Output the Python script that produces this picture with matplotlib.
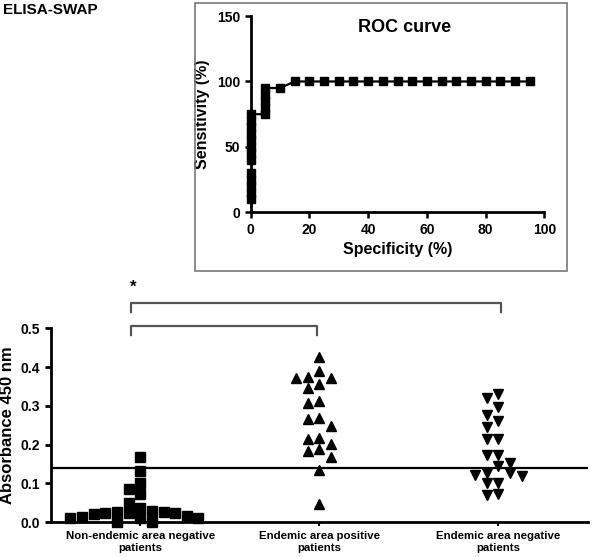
import numpy as np
import matplotlib.pyplot as plt

plt.rcParams['font.family'] = ['Liberation Sans', 'DejaVu Sans']
plt.rcParams['font.weight'] = 'bold'

# scatter data (absorbance at 450 nm)
groups = ['Non-endemic area negative\npatients',
          'Endemic area positive\npatients',
          'Endemic area negative\npatients']
non_endemic_neg = [0.169, 0.133, 0.100, 0.085, 0.072, 0.049, 0.036, 0.030, 0.027,
                   0.027, 0.023, 0.023, 0.023, 0.021, 0.015, 0.014, 0.012, 0.010,
                   0.010, 0.002, 0.001]
endemic_pos = [0.425, 0.390, 0.375, 0.373, 0.373, 0.356, 0.347, 0.313, 0.308, 0.270,
               0.267, 0.247, 0.217, 0.215, 0.203, 0.190, 0.183, 0.168, 0.136, 0.048]
endemic_neg = [0.331, 0.320, 0.297, 0.277, 0.262, 0.245, 0.215, 0.215, 0.174, 0.173,
               0.153, 0.144, 0.127, 0.127, 0.123, 0.120, 0.102, 0.100, 0.074, 0.070]
cutoff = 0.14

# ROC curve (nan = break in the line)
roc_spec = [0, 0, 0, 0, 0, np.nan, 0, 0, 0, 0, 0, 0, 0, 0,
            5, 5, 5, 5, 5, 10,
            15, 20, 25, 30, 35, 40, 45, 50, 55, 60, 65, 70, 75, 80, 85, 90, 95]
roc_sens = [10, 15, 20, 25, 30, np.nan, 40, 45, 50, 55, 60, 65, 70, 75,
            75, 80, 85, 90, 95, 95,
            100, 100, 100, 100, 100, 100, 100, 100, 100, 100, 100, 100, 100, 100, 100, 100, 100]


def swarm(values, h=0.024, step=0.065):
    # beeswarm: candidate offsets in half steps, boxes must not overlap
    placed = []
    xs = np.zeros(len(values))
    cands = [0.0]
    for j in range(1, 14):
        cands += [-0.5 * j, 0.5 * j]
    for i in np.argsort(values)[::-1]:
        v = values[i]
        for k in cands:
            if all(not (abs(pk - k) < 1 and abs(pv - v) < h) for pk, pv in placed):
                placed.append((k, v))
                xs[i] = k * step
                break
    return xs


fig = plt.figure(figsize=(5.92, 5.57), dpi=100)

fig.text(0.005, 0.994, 'ELISA-SWAP', fontsize=11, fontweight='bold', va='top', ha='left')

# ---- bottom scatter ----
ax = fig.add_axes([0.0856, 0.0623, 0.9076, 0.3483])
series = [non_endemic_neg, endemic_pos, endemic_neg]
markers = ['s', '^', 'v']
msizes = [6.5, 7.5, 7.5]
for i, (vals, m, ms) in enumerate(zip(series, markers, msizes)):
    vals = np.array(vals)
    ax.plot(i + swarm(vals), vals, linestyle='none', marker=m, color='black',
            markersize=ms, clip_on=False)
ax.axhline(cutoff, color='black', lw=1.6)
ax.set_xlim(-0.5, 2.5)
ax.set_ylim(0, 0.5)
ax.set_yticks([0.0, 0.1, 0.2, 0.3, 0.4, 0.5])
ax.set_yticklabels(['0.0', '0.1', '0.2', '0.3', '0.4', '0.5'], fontsize=10, fontweight='bold')
ax.set_xticks([0, 1, 2])
ax.set_xticklabels(groups, fontsize=8.2, fontweight='bold')
ax.set_ylabel('Absorbance 450 nm', fontsize=12, fontweight='bold', labelpad=4)
for s in ['top', 'right']:
    ax.spines[s].set_visible(False)
for s in ['left', 'bottom']:
    ax.spines[s].set_linewidth(2)
ax.tick_params(axis='y', width=2, length=4)
ax.tick_params(axis='x', width=1.5, length=3)

# significance brackets
bc = '#555555'
ax.plot([-0.05, -0.05, 0.985, 0.985], [0.482, 0.506, 0.506, 0.482], color=bc, lw=1.6, clip_on=False)
ax.plot([-0.05, -0.05, 2.015, 2.015], [0.541, 0.565, 0.565, 0.541], color=bc, lw=1.6, clip_on=False)
ax.text(-0.04, 0.607, '*', fontsize=12, fontweight='bold', ha='center', va='center')

# ---- ROC inset ----
box = plt.Rectangle((0.330, 0.514), 0.628, 0.481, transform=fig.transFigure,
                    fill=False, edgecolor='#777777', lw=1.2)
fig.patches.append(box)

rx = fig.add_axes([0.4235, 0.6188, 0.496, 0.3524])
rx.plot(roc_spec, roc_sens, color='black', lw=1.6, marker='s', markersize=6, clip_on=False)
rx.set_xlim(0, 100)
rx.set_ylim(0, 150)
rx.set_xticks([0, 20, 40, 60, 80, 100])
rx.set_yticks([0, 50, 100, 150])
rx.tick_params(labelsize=10, width=1.8, length=4)
for lab in rx.get_xticklabels() + rx.get_yticklabels():
    lab.set_fontweight('bold')
rx.set_xlabel('Specificity (%)', fontsize=11.5, fontweight='bold', labelpad=4)
rx.set_ylabel('Sensitivity (%)', fontsize=11.5, fontweight='bold', labelpad=5)
rx.text(52.5, 141, 'ROC curve', fontsize=13, fontweight='bold', ha='center', va='center')
for s in ['top', 'right']:
    rx.spines[s].set_visible(False)
for s in ['left', 'bottom']:
    rx.spines[s].set_linewidth(2)

fig.savefig('out.png', dpi=100)
